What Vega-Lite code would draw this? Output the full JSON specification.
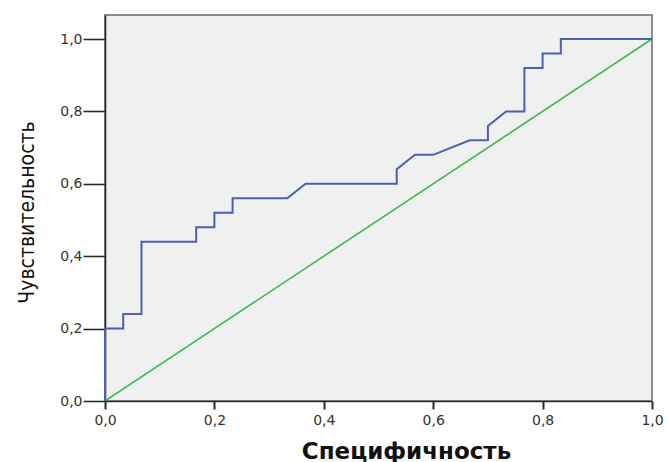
{
  "$schema": "https://vega.github.io/schema/vega-lite/v6.json",
  "width": 547,
  "height": 386,
  "autosize": {"type": "none"},
  "padding": {"left": 105, "top": 15, "right": 15, "bottom": 61},
  "background": "#ffffff",
  "config": {
    "view": {"fill": "#f0f0f0", "stroke": "#8c8c8c", "strokeWidth": 2},
    "axis": {
      "grid": false,
      "domainColor": "#2b2b2b",
      "domainWidth": 1.6,
      "tickColor": "#2b2b2b",
      "labelFont": "DejaVu Sans",
      "labelFontSize": 14,
      "labelColor": "#333333",
      "titleColor": "#111111"
    }
  },
  "datasets": {
    "roc": [
      {"i": 0, "fpr": 0.0, "tpr": 0.0},
      {"i": 1, "fpr": 0.0, "tpr": 0.2},
      {"i": 2, "fpr": 0.0333, "tpr": 0.2},
      {"i": 3, "fpr": 0.0333, "tpr": 0.24},
      {"i": 4, "fpr": 0.0667, "tpr": 0.24},
      {"i": 5, "fpr": 0.0667, "tpr": 0.44},
      {"i": 6, "fpr": 0.1667, "tpr": 0.44},
      {"i": 7, "fpr": 0.1667, "tpr": 0.48},
      {"i": 8, "fpr": 0.2, "tpr": 0.48},
      {"i": 9, "fpr": 0.2, "tpr": 0.52},
      {"i": 10, "fpr": 0.2333, "tpr": 0.52},
      {"i": 11, "fpr": 0.2333, "tpr": 0.56},
      {"i": 12, "fpr": 0.3333, "tpr": 0.56},
      {"i": 13, "fpr": 0.3667, "tpr": 0.6},
      {"i": 14, "fpr": 0.5333, "tpr": 0.6},
      {"i": 15, "fpr": 0.5333, "tpr": 0.64},
      {"i": 16, "fpr": 0.5667, "tpr": 0.68},
      {"i": 17, "fpr": 0.6, "tpr": 0.68},
      {"i": 18, "fpr": 0.6667, "tpr": 0.72},
      {"i": 19, "fpr": 0.7, "tpr": 0.72},
      {"i": 20, "fpr": 0.7, "tpr": 0.76},
      {"i": 21, "fpr": 0.7333, "tpr": 0.8},
      {"i": 22, "fpr": 0.7667, "tpr": 0.8},
      {"i": 23, "fpr": 0.7667, "tpr": 0.92},
      {"i": 24, "fpr": 0.8, "tpr": 0.92},
      {"i": 25, "fpr": 0.8, "tpr": 0.96},
      {"i": 26, "fpr": 0.8333, "tpr": 0.96},
      {"i": 27, "fpr": 0.8333, "tpr": 1.0},
      {"i": 28, "fpr": 1.0, "tpr": 1.0}
    ],
    "reference": [
      {"i": 0, "fpr": 0.0, "tpr": 0.0},
      {"i": 1, "fpr": 1.0, "tpr": 1.0}
    ]
  },
  "encoding": {
    "x": {
      "field": "fpr",
      "type": "quantitative",
      "scale": {"domain": [0, 1], "nice": false, "zero": false},
      "axis": {
        "title": "Специфичность",
        "values": [0, 0.2, 0.4, 0.6, 0.8, 1.0],
        "labelExpr": "replace(format(datum.value, '.1f'), '.', ',')",
        "tickSize": 8,
        "tickWidth": 2,
        "labelPadding": 4,
        "labelFlush": false,
        "labelOverlap": false,
        "titleFont": "DejaVu Sans",
        "titleFontSize": 23,
        "titleFontWeight": "bold",
        "titleBaseline": "alphabetic",
        "titleAlign": "center",
        "titleX": 301,
        "titleY": 57
      }
    },
    "y": {
      "field": "tpr",
      "type": "quantitative",
      "scale": {"domain": [0, 1.0663], "nice": false, "zero": false},
      "axis": {
        "title": "Чувствительность",
        "values": [0, 0.2, 0.4, 0.6, 0.8, 1.0],
        "labelExpr": "replace(format(datum.value, '.1f'), '.', ',')",
        "tickSize": 22,
        "tickWidth": 1.6,
        "labelPadding": 1,
        "labelFlush": false,
        "labelOverlap": false,
        "titleFont": "Liberation Sans Narrow, DejaVu Sans Condensed, Liberation Sans",
        "titleFontSize": 21,
        "titleFontWeight": "normal",
        "titleAngle": -90,
        "titleBaseline": "alphabetic",
        "titleAlign": "center",
        "titleX": -72,
        "titleY": 197
      }
    },
    "order": {"field": "i", "type": "quantitative"}
  },
  "layer": [
    {
      "data": {"name": "reference"},
      "mark": {"type": "line", "color": "#3dbb50", "strokeWidth": 1.6, "clip": true}
    },
    {
      "data": {"name": "roc"},
      "mark": {"type": "line", "color": "#4a5fb6", "strokeWidth": 2, "clip": false}
    }
  ]
}
